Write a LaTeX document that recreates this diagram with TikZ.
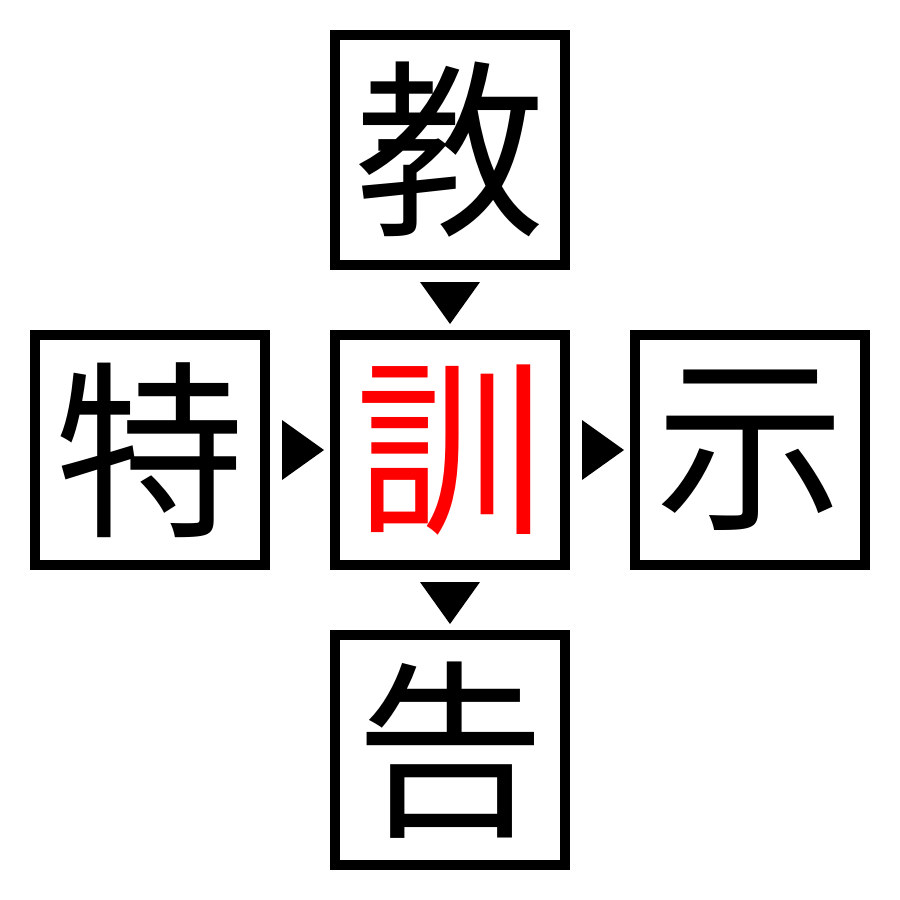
\documentclass[tikz,border=0pt]{standalone}
\usepackage{fontspec}
\newfontfamily\cjk{Noto Sans CJK JP}
\usetikzlibrary{calc}
\tikzset{
  kanji/.style={draw=black, line width=10pt, minimum size=230pt, inner sep=0pt, outer sep=0pt,
    font=\cjk\fontsize{190}{190}\selectfont, text=black},
  tri/.style={fill=black}
}
\begin{document}
\begin{tikzpicture}[x=1pt,y=-1pt]
\useasboundingbox (0,0) rectangle (900,900);
\node[kanji] (t) at (450,150) {教};
\node[kanji] (l) at (150,450) {特};
\node[kanji, text=red] (c) at (450,450) {訓};
\node[kanji] (r) at (750,450) {示};
\node[kanji] (b) at (450,750) {告};
\fill[tri] ($(t.south)+(-30,17)$) -- ($(t.south)+(30,17)$) -- ($(c.north)+(0,-11)$) -- cycle;
\fill[tri] ($(c.south)+(-30,17)$) -- ($(c.south)+(30,17)$) -- ($(b.north)+(0,-11)$) -- cycle;
\fill[tri] ($(l.east)+(17,-30)$) -- ($(l.east)+(17,30)$) -- ($(c.west)+(-11,0)$) -- cycle;
\fill[tri] ($(c.east)+(17,-30)$) -- ($(c.east)+(17,30)$) -- ($(r.west)+(-11,0)$) -- cycle;
\end{tikzpicture}
\end{document}
